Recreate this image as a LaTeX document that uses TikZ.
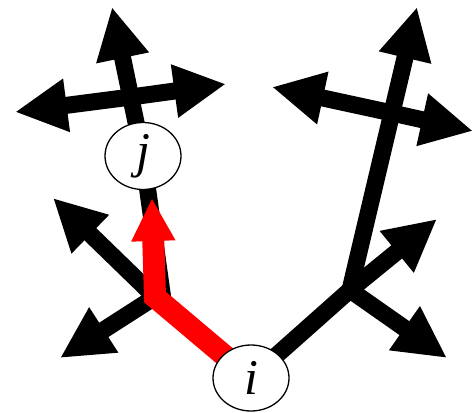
\documentclass[tikz,border=0pt]{standalone}
\usepackage{fontspec}
\setmainfont{Liberation Serif}
\usetikzlibrary{arrows.meta,shapes.geometric,backgrounds}
\begin{document}
\begin{tikzpicture}[x=1pt,y=-1pt,
  vtx/.style={ellipse,draw,line width=1.3pt,fill=white,inner sep=0pt,
    font=\fontsize{50}{56}\selectfont\itshape},
  seg/.style={line width=17pt},
  blk/.style={line width=17pt,-{Triangle[length=52pt,width=50pt]}},
  redpath/.style={line width=22pt,red,line join=miter,
    -{Triangle[length=43pt,width=41pt]}}
]
\useasboundingbox (0,0) rectangle (473,412);
\node[vtx,minimum width=76pt,minimum height=66pt] (i) at (251,378) {i};
\node[vtx,minimum width=76pt,minimum height=67pt] (j) at (143,156) {j};
\coordinate (jl) at (155,297);
\coordinate (jlb) at (163,300);
\coordinate (jr) at (350,290);
\coordinate (cj) at (131,97);
\coordinate (cr) at (392,113);
\coordinate (tjt) at (112,7);
\coordinate (tjl) at (15,112);
\coordinate (tjr) at (226,84);
\coordinate (tul) at (53,198);
\coordinate (tdl) at (60,358);
\coordinate (trt) at (417,7);
\coordinate (tcl) at (272,87);
\coordinate (tcr) at (473,131);
\coordinate (tur) at (437,219);
\coordinate (tdr) at (447,358);
\coordinate (rtop) at (152,198);
\begin{pgfonlayer}{background}
\draw[seg] (i.center) -- (jr);
\draw[blk] (jr) -- (trt);
\draw[blk] (cr) -- (tcl);
\draw[blk] (cr) -- (tcr);
\draw[blk] (jr) -- (tur);
\draw[blk] (jr) -- (tdr);
\draw[seg] (jlb) -- (j.center);
\draw[blk] (j.center) -- (tjt);
\draw[blk] (cj) -- (tjl);
\draw[blk] (cj) -- (tjr);
\draw[blk] (jl) -- (tul);
\draw[blk] (jl) -- (tdl);
\draw[redpath] (i.center) -- (jl) -- (rtop);
\end{pgfonlayer}
\end{tikzpicture}
\end{document}
